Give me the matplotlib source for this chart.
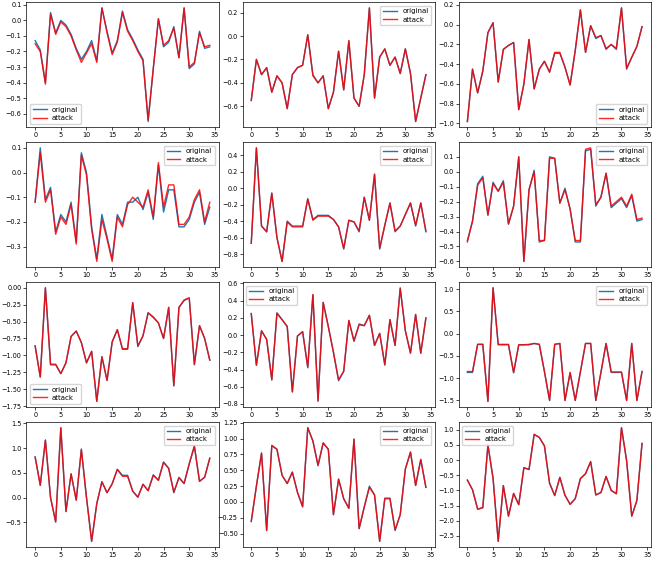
import matplotlib
matplotlib.use("Agg")
import matplotlib.pyplot as plt
from matplotlib.ticker import MaxNLocator

x = list(range(35))

# row 1
orig_1 = [-0.13, -0.19, -0.40, 0.05, -0.08, 0.00, -0.03, -0.09, -0.18, -0.25, -0.20, -0.13, -0.26, 0.08, -0.07, -0.21, -0.13, 0.06, -0.06, -0.12, -0.19, -0.25, -0.65, -0.31, 0.01, -0.17, -0.14, -0.04, -0.24, 0.08, -0.31, -0.28, -0.07, -0.18, -0.17]
atk_1 = [-0.15, -0.20, -0.41, 0.04, -0.09, -0.01, -0.04, -0.10, -0.19, -0.27, -0.21, -0.15, -0.27, 0.08, -0.08, -0.22, -0.14, 0.05, -0.07, -0.13, -0.20, -0.26, -0.64, -0.31, 0.01, -0.16, -0.13, -0.05, -0.24, 0.08, -0.30, -0.27, -0.08, -0.17, -0.16]
orig_2 = [-0.55, -0.20, -0.33, -0.27, -0.48, -0.34, -0.40, -0.62, -0.33, -0.27, -0.25, 0.01, -0.33, -0.40, -0.34, -0.62, -0.48, -0.13, -0.46, -0.04, -0.53, -0.60, -0.33, 0.24, -0.53, -0.18, -0.11, -0.25, -0.18, -0.32, -0.11, -0.32, -0.73, -0.53, -0.33]
atk_2 = [-0.55, -0.20, -0.33, -0.27, -0.48, -0.34, -0.40, -0.62, -0.33, -0.27, -0.25, 0.01, -0.34, -0.40, -0.34, -0.62, -0.48, -0.13, -0.46, -0.04, -0.53, -0.60, -0.33, 0.24, -0.53, -0.18, -0.11, -0.25, -0.18, -0.32, -0.11, -0.32, -0.73, -0.53, -0.33]
orig_3 = [-0.98, -0.45, -0.69, -0.47, -0.08, 0.02, -0.58, -0.25, -0.21, -0.18, -0.86, -0.60, -0.15, -0.65, -0.45, -0.37, -0.48, -0.29, -0.29, -0.43, -0.61, -0.26, 0.15, -0.28, -0.01, -0.14, -0.11, -0.25, -0.20, -0.25, 0.17, -0.45, -0.33, -0.22, -0.02]
atk_3 = [-0.98, -0.45, -0.69, -0.47, -0.08, 0.02, -0.58, -0.25, -0.21, -0.18, -0.86, -0.60, -0.15, -0.65, -0.45, -0.37, -0.48, -0.28, -0.28, -0.43, -0.61, -0.26, 0.15, -0.28, -0.01, -0.13, -0.11, -0.24, -0.20, -0.24, 0.17, -0.44, -0.33, -0.22, -0.02]

# row 2
orig_4 = [-0.12, 0.10, -0.11, -0.06, -0.24, -0.17, -0.20, -0.12, -0.28, 0.08, 0.00, -0.22, -0.35, -0.17, -0.26, -0.35, -0.17, -0.21, -0.12, -0.12, -0.10, -0.15, -0.08, -0.19, 0.03, -0.16, -0.07, -0.07, -0.22, -0.22, -0.19, -0.12, -0.08, -0.21, -0.14]
atk_4 = [-0.12, 0.08, -0.12, -0.07, -0.25, -0.18, -0.21, -0.13, -0.29, 0.07, -0.01, -0.23, -0.36, -0.19, -0.27, -0.36, -0.18, -0.22, -0.13, -0.10, -0.12, -0.14, -0.07, -0.18, 0.04, -0.14, -0.05, -0.05, -0.21, -0.21, -0.18, -0.11, -0.07, -0.20, -0.12]
orig_5 = [-0.67, 0.49, -0.46, -0.53, -0.06, -0.60, -0.89, -0.40, -0.46, -0.46, -0.46, -0.13, -0.38, -0.33, -0.33, -0.33, -0.38, -0.47, -0.74, -0.39, -0.41, -0.53, -0.11, -0.39, 0.17, -0.74, -0.45, -0.18, -0.53, -0.46, -0.32, -0.18, -0.46, -0.18, -0.53]
atk_5 = [-0.67, 0.49, -0.46, -0.53, -0.06, -0.60, -0.89, -0.41, -0.47, -0.47, -0.47, -0.13, -0.39, -0.34, -0.34, -0.34, -0.38, -0.47, -0.73, -0.39, -0.41, -0.52, -0.11, -0.39, 0.17, -0.73, -0.45, -0.18, -0.52, -0.46, -0.32, -0.18, -0.45, -0.18, -0.52]
orig_6 = [-0.46, -0.33, -0.08, -0.03, -0.29, -0.07, -0.13, -0.06, -0.35, -0.23, 0.10, -0.60, -0.12, 0.01, -0.47, -0.46, 0.10, 0.09, -0.21, -0.11, -0.25, -0.47, -0.47, 0.14, 0.15, -0.23, -0.17, -0.01, -0.24, -0.21, -0.18, -0.24, -0.16, -0.33, -0.32]
atk_6 = [-0.47, -0.33, -0.09, -0.04, -0.29, -0.08, -0.13, -0.07, -0.35, -0.23, 0.10, -0.60, -0.12, 0.00, -0.46, -0.46, 0.09, 0.09, -0.21, -0.12, -0.25, -0.46, -0.46, 0.15, 0.16, -0.22, -0.17, -0.01, -0.23, -0.20, -0.17, -0.23, -0.15, -0.32, -0.31]

# row 3
orig_7 = [-0.86, -1.32, 0.00, -1.14, -1.14, -1.27, -1.11, -0.72, -0.64, -0.81, -1.11, -0.94, -1.68, -1.02, -1.37, -0.80, -0.62, -0.91, -0.91, -0.22, -0.87, -0.71, -0.37, -0.44, -0.52, -0.75, -0.29, -1.45, -0.29, -0.19, -0.15, -1.14, -0.56, -0.75, -1.07]
atk_7 = [-0.86, -1.32, 0.00, -1.13, -1.13, -1.27, -1.11, -0.72, -0.64, -0.81, -1.11, -0.94, -1.68, -1.02, -1.37, -0.80, -0.62, -0.90, -0.90, -0.22, -0.86, -0.71, -0.37, -0.43, -0.52, -0.75, -0.29, -1.45, -0.29, -0.18, -0.15, -1.13, -0.56, -0.75, -1.07]
orig_8 = [0.25, -0.35, 0.05, -0.05, -0.52, 0.26, 0.18, 0.10, -0.66, -0.01, 0.04, -0.38, 0.47, -0.77, 0.38, 0.10, -0.20, -0.53, -0.42, 0.17, -0.07, 0.13, 0.11, 0.23, -0.12, 0.02, -0.35, 0.18, -0.12, 0.55, 0.05, -0.21, 0.24, -0.21, 0.20]
atk_8 = [0.25, -0.35, 0.05, -0.05, -0.52, 0.25, 0.18, 0.10, -0.66, -0.01, 0.04, -0.37, 0.47, -0.76, 0.38, 0.10, -0.20, -0.52, -0.42, 0.17, -0.07, 0.12, 0.11, 0.23, -0.12, 0.02, -0.34, 0.18, -0.12, 0.54, 0.05, -0.21, 0.24, -0.21, 0.20]
orig_9 = [-0.87, -0.87, -0.24, -0.24, -1.52, 1.03, -0.25, -0.25, -0.25, -0.88, -0.25, -0.25, -0.25, -0.22, -0.24, -0.85, -1.50, -0.24, -0.22, -1.50, -0.88, -1.50, -0.86, -0.22, -0.22, -1.50, -0.87, -0.22, -0.87, -0.87, -0.87, -1.50, -0.22, -1.50, -0.85]
atk_9 = [-0.85, -0.85, -0.24, -0.24, -1.52, 1.03, -0.24, -0.24, -0.24, -0.87, -0.25, -0.25, -0.24, -0.22, -0.24, -0.85, -1.50, -0.24, -0.22, -1.50, -0.87, -1.50, -0.86, -0.22, -0.22, -1.50, -0.87, -0.22, -0.86, -0.86, -0.86, -1.50, -0.22, -1.50, -0.85]

# row 4
orig_10 = [0.82, 0.25, 1.16, 0.00, -0.49, 1.41, -0.28, 0.48, -0.05, 0.98, 0.00, -0.88, -0.12, 0.32, 0.10, 0.28, 0.57, 0.45, 0.45, 0.13, 0.01, 0.27, 0.14, 0.46, 0.35, 0.72, 0.59, 0.10, 0.41, 0.28, 0.68, 1.04, 0.33, 0.41, 0.80]
atk_10 = [0.82, 0.25, 1.16, 0.00, -0.49, 1.41, -0.28, 0.48, -0.05, 0.97, 0.00, -0.88, -0.12, 0.32, 0.10, 0.28, 0.57, 0.43, 0.43, 0.13, 0.01, 0.27, 0.14, 0.45, 0.35, 0.71, 0.59, 0.11, 0.40, 0.29, 0.68, 1.04, 0.33, 0.41, 0.79]
orig_11 = [-0.31, 0.25, 0.77, -0.45, 0.89, 0.83, 0.42, 0.29, 0.47, 0.15, -0.08, 1.17, 0.96, 0.57, 0.93, 0.83, -0.20, 0.36, 0.05, -0.10, 0.99, -0.42, -0.08, 0.25, 0.11, -0.62, 0.06, 0.06, -0.45, -0.20, 0.52, 0.79, 0.26, 0.67, 0.23]
atk_11 = [-0.30, 0.25, 0.77, -0.45, 0.89, 0.83, 0.42, 0.29, 0.47, 0.15, -0.07, 1.17, 0.96, 0.58, 0.93, 0.83, -0.20, 0.36, 0.05, -0.10, 0.99, -0.42, -0.08, 0.23, 0.11, -0.62, 0.05, 0.05, -0.44, -0.20, 0.52, 0.78, 0.26, 0.67, 0.23]
orig_12 = [-0.66, -0.98, -1.62, -1.57, 0.50, -0.60, -2.68, -0.84, -1.85, -1.10, -1.47, -0.25, -0.31, 0.85, 0.75, 0.47, -0.76, -1.17, -0.57, -1.16, -1.46, -1.27, -0.61, -0.45, -0.05, -1.15, -1.07, -0.54, -1.00, -1.11, 1.07, -0.02, -1.85, -1.33, 0.55]
atk_12 = [-0.66, -0.98, -1.62, -1.57, 0.50, -0.60, -2.68, -0.84, -1.85, -1.10, -1.47, -0.25, -0.31, 0.85, 0.75, 0.47, -0.76, -1.17, -0.57, -1.16, -1.46, -1.27, -0.61, -0.45, -0.05, -1.15, -1.07, -0.54, -1.00, -1.11, 1.07, -0.02, -1.85, -1.33, 0.55]

originals = [orig_1, orig_2, orig_3, orig_4, orig_5, orig_6,
             orig_7, orig_8, orig_9, orig_10, orig_11, orig_12]
attacks = [atk_1, atk_2, atk_3, atk_4, atk_5, atk_6,
           atk_7, atk_8, atk_9, atk_10, atk_11, atk_12]
legend_locs = ["lower left", "upper right", "lower right",
               "upper right", "upper right", "upper right",
               "lower left", "upper left", "upper right",
               "upper right", "upper right", "upper left"]

plt.rcParams["font.size"] = 4.7
plt.rcParams["axes.linewidth"] = 0.5
plt.rcParams["xtick.major.width"] = 0.5
plt.rcParams["ytick.major.width"] = 0.5
plt.rcParams["xtick.major.size"] = 2
plt.rcParams["ytick.major.size"] = 2
plt.rcParams["xtick.major.pad"] = 1.5
plt.rcParams["ytick.major.pad"] = 1.5

fig, axes = plt.subplots(4, 3, figsize=(6.6, 5.61), dpi=100)
fig.subplots_adjust(left=0.04, right=0.986, top=0.996, bottom=0.025,
                    wspace=0.125, hspace=0.12)

for ax, o, a, loc in zip(axes.flat, originals, attacks, legend_locs):
    ax.plot(x, o, color="#1f77b4", lw=1.0, label="original")
    ax.plot(x, a, color="red", lw=1.0, alpha=0.85, label="attack")
    ax.set_xticks([0, 5, 10, 15, 20, 25, 30, 35])
    ax.yaxis.set_major_locator(MaxNLocator(nbins=9, steps=[1, 2, 2.5, 5, 10]))
    ax.legend(loc=loc, fontsize=5, handlelength=2, borderpad=0.4,
              labelspacing=0.3)

fig.savefig("out.png", dpi=100)
